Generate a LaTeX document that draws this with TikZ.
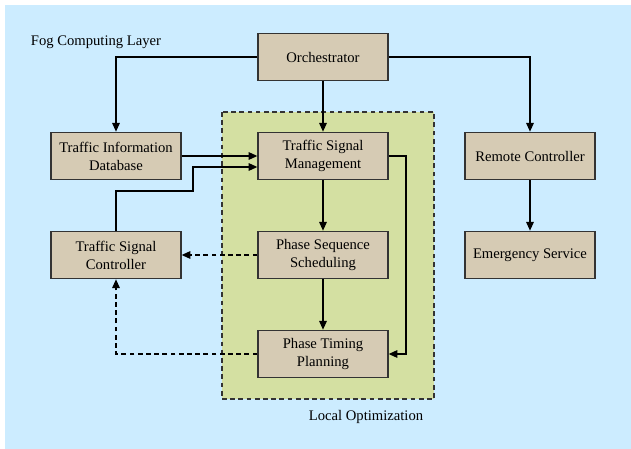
\documentclass[tikz,border=0pt]{standalone}
\usepackage{fontspec}
\setmainfont{Liberation Serif}
\usetikzlibrary{arrows.meta,positioning}
\definecolor{CbgA}{RGB}{204,236,255}
\definecolor{CloA}{RGB}{212,224,162}
\definecolor{CboxA}{RGB}{214,203,180}
\tikzset{
fbox/.style={draw=black!80, fill=CboxA, line width=1.1pt, minimum width=3.9cm, minimum height=1.42cm, align=center, inner sep=0pt, font=\fontsize{12.5}{15.5}\selectfont},
farrow/.style={-{Triangle[length=7.5pt,width=6.5pt]}, line width=1.1pt},
fdash/.style={farrow, dash pattern=on 4pt off 3pt},
}

\begin{document}
\begin{tikzpicture}[x=0.03cm,y=-0.03cm]
\useasboundingbox (0,0) rectangle (631,449);

%% Background
\fill[CbgA] (5,5) rectangle (631,449);
\node[font=\fontsize{12.5}{15}\selectfont] (fog) at (96,42) {Fog Computing Layer};

%% Local optimization area
\draw[fill=CloA, draw=black!80, dash pattern=on 4pt off 3pt, line width=1.1pt] (222,112) rectangle (434,399);
\node[font=\fontsize{12.5}{15}\selectfont] (local) at (366,417) {Local Optimization};

%% Blocks
\node[fbox] (orch) at (323,57) {Orchestrator};
\node[fbox] (tid) at (116,156) {Traffic Information\\Database};
\node[fbox] (tsm) at (323,156) {Traffic Signal\\Management};
\node[fbox] (rc) at (530,156) {Remote Controller};
\node[fbox] (tsc) at (116,255) {Traffic Signal\\Controller};
\node[fbox] (pss) at (323,255) {Phase Sequence\\Scheduling};
\node[fbox] (es) at (530,255) {Emergency Service};
\node[fbox] (ptp) at (323,354) {Phase Timing\\Planning};

%% Connections
\draw[farrow] (orch.west) -| (tid.north);
\draw[farrow] (orch.east) -| (rc.north);
\draw[farrow] (orch.south) -- (tsm.north);
\draw[farrow] (tid.east) -- (tsm.west);
\draw[farrow] (tsc.north) |- (193,191) |- ([yshift=-0.33cm]tsm.west);
\draw[farrow] (tsm.east) -- (406,156) |- (ptp.east);
\draw[farrow] (tsm.south) -- (pss.north);
\draw[farrow] (pss.south) -- (ptp.north);
\draw[farrow] (rc.south) -- (es.north);
\draw[fdash] (pss.west) -- (tsc.east);
\draw[fdash] (ptp.west) -| (tsc.south);
\end{tikzpicture}
\end{document}
